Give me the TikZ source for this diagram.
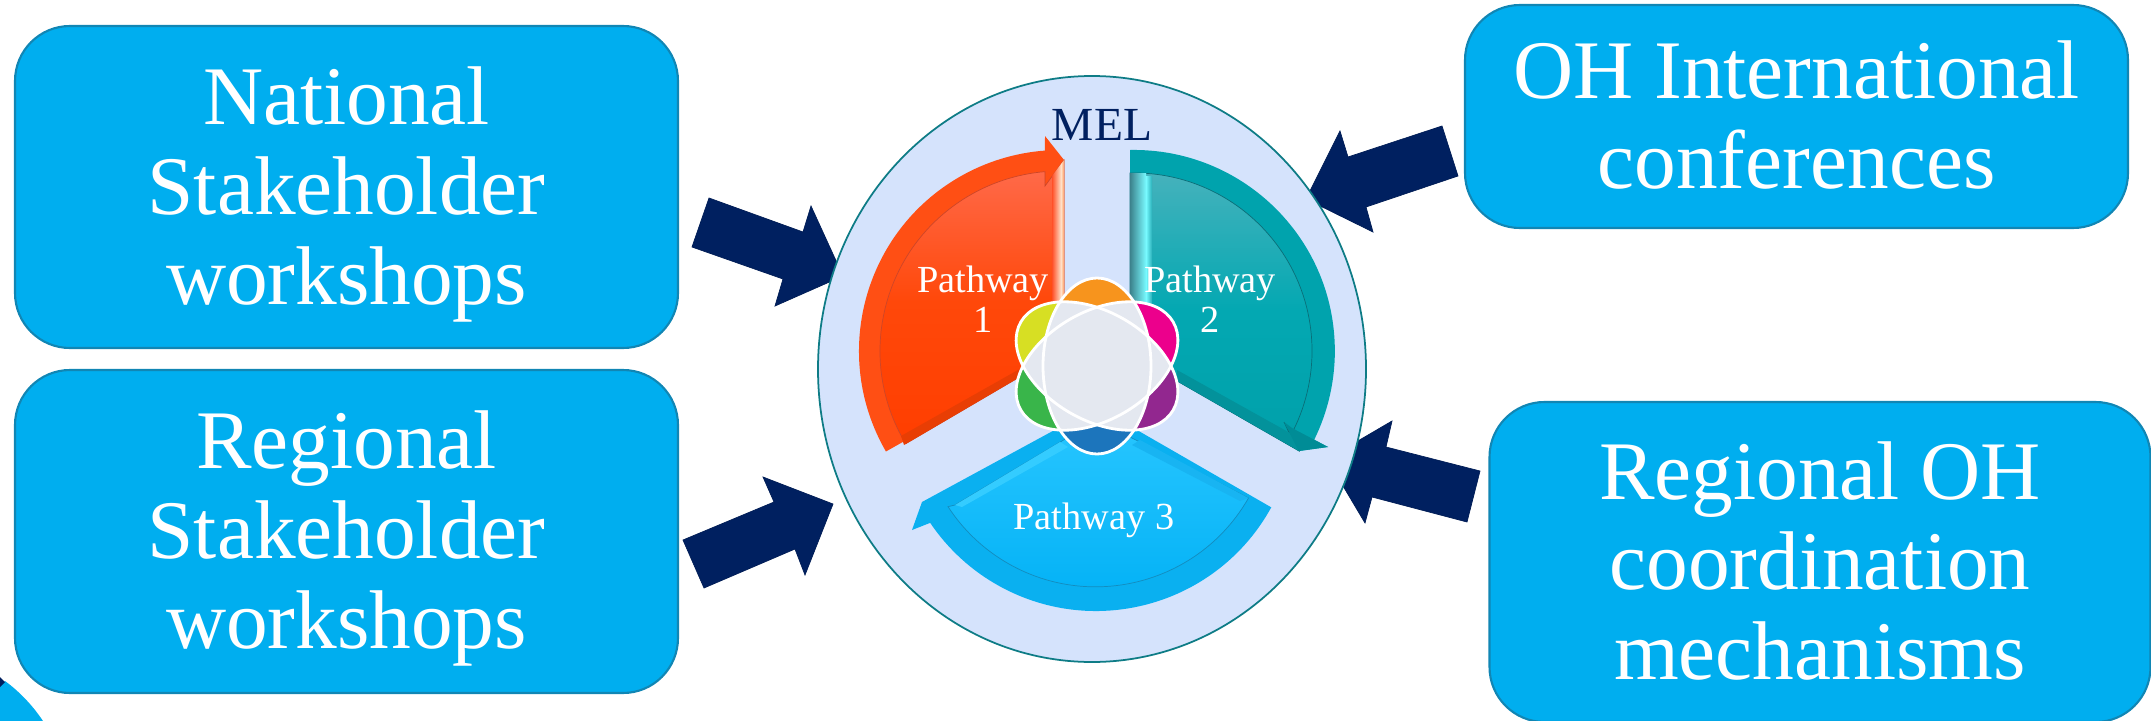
\documentclass[tikz,border=0pt]{standalone}
\usepackage{fontspec}
\setmainfont{Liberation Serif}
\usetikzlibrary{shapes.geometric}

\definecolor{boxblue}{HTML}{00AEEF}
\definecolor{boxline}{HTML}{1186B4}
\definecolor{navy}{HTML}{002060}
\definecolor{ringfill}{HTML}{D5E3FC}
\definecolor{ringline}{HTML}{0E7C86}
\definecolor{grayc}{HTML}{E4E8F0}
\definecolor{orbase}{HTML}{FF4F14}
\definecolor{orline}{HTML}{CD4628}
\definecolor{ortop}{HTML}{FF6C4E}
\definecolor{ormid}{HTML}{FF480A}
\definecolor{orlow}{HTML}{FF3E00}
\definecolor{ordark}{HTML}{E83E04}
\definecolor{orleft}{HTML}{FF5028}
\definecolor{orlight}{HTML}{FFE1C8}
\definecolor{oredge}{HTML}{FF9A60}
\definecolor{tealbase}{HTML}{00A3AD}
\definecolor{tealline}{HTML}{0A6E78}
\definecolor{tealtop}{HTML}{46B2BC}
\definecolor{tealmid}{HTML}{03A8B2}
\definecolor{teallow}{HTML}{00A0AA}
\definecolor{tealdark}{HTML}{03929B}
\definecolor{tealhead}{HTML}{008C96}
\definecolor{tealshade}{HTML}{3C828C}
\definecolor{teallight}{HTML}{78FAFF}
\definecolor{tealside}{HTML}{28AFB9}
\definecolor{skybase}{HTML}{0AB0F0}
\definecolor{skyline}{HTML}{148CBE}
\definecolor{skytop}{HTML}{28C6FF}
\definecolor{skylow}{HTML}{00B0F5}
\definecolor{skylight}{HTML}{34CCFF}
\definecolor{skyside}{HTML}{18B4F2}

\tikzset{
 	bigbox/.style={rectangle, rounded corners=1.1cm, draw=boxline, line width=1.2pt, fill=boxblue, inner sep=0pt},
 	boxtext/.style={text=white, align=center, inner sep=0pt, font=\fontsize{47.4}{51.2}\selectfont},
 	blockarrow/.style={fill=navy, draw=navy!90!black, line width=0.4pt},
 	pathlabel/.style={text=white, align=center, inner sep=0pt, font=\fontsize{21.8}{23}\selectfont},
 	petal/.style={x radius=54, y radius=88}
}

\begin{document}
\begin{tikzpicture}[x=1pt, y=1pt, xscale=0.56906, yscale=-0.56906]
 	\useasboundingbox (0,0) rectangle (2151,721);
 	% Corner piece
 	\fill[boxblue] (0,686) -- (5,681) .. controls (20,692) and (33,706) .. (43,721) -- (0,721) -- cycle;
 	\fill[navy] (0,677) -- (5,682) -- (0,687) -- cycle;
 	% Boxes
 	\node[bigbox, minimum width=13.26cm, minimum height=6.44cm] (national) at (346.5,187) {};
 	\node[bigbox, minimum width=13.26cm, minimum height=6.46cm] (regional) at (346.5,531.5) {};
 	\node[bigbox, minimum width=13.26cm, minimum height=4.46cm] (conferences) at (1796.5,116.5) {};
 	\node[bigbox, minimum width=13.22cm, minimum height=6.4cm] (mechanisms) at (1820,562) {};
 	\node[boxtext] (national_text) at (346.5,194) {National\\Stakeholder\\workshops};
 	\node[boxtext] (regional_text) at (346.5,538) {Regional\\Stakeholder\\workshops};
 	\node[boxtext] (conferences_text) at (1796.5,115) {OH International\\conferences};
 	\node[boxtext] (mechanisms_text) at (1820,561) {Regional OH\\coordination\\mechanisms};
 	% Arrows
 	\draw[blockarrow] (709,198) -- (803,232) -- (811,206) -- (843,276) -- (775,306) -- (783,279) -- (692,247) -- cycle;
 	\draw[blockarrow] (683,540) -- (774,502) -- (763,477) -- (833,504) -- (805,575) -- (795,549) -- (704,588) -- cycle;
 	\draw[blockarrow] (1442,126) -- (1348,157) -- (1340,131) -- (1306,199) -- (1373,232) -- (1366,207) -- (1458,176) -- cycle;
 	\draw[blockarrow] (1480,471) -- (1386,447) -- (1392,421) -- (1327,459) -- (1365,523) -- (1372,497) -- (1467,522) -- cycle;
 	% Ring
 	\node[ellipse, draw=ringline, line width=1pt, fill=ringfill, inner sep=0pt, minimum width=10.96cm, minimum height=11.72cm] (ring) at (1092,369) {};
 	% Pathway 1
 	\fill[orbase] ([shift={(1060,351)}]150:201) arc[start angle=150, end angle=265.7, radius=201] -- (1045,136) -- (1064,160) -- (1064,351) -- cycle;
 	\path[draw=orline, line width=0.4pt, top color=ortop, bottom color=orlow, middle color=ormid] ([shift={(1060,351)}]149:180) arc[start angle=149, end angle=265.2, radius=180] -- (1045,186) -- (1064,160) -- (1064,351) -- cycle;
 	\fill[ordark] (904,445) -- (1064,351) -- (1064,344) -- (901,436) -- cycle;
 	\shade[left color=orleft, right color=orlight] (1052,176) -- (1061,164) -- (1061,345) -- (1052,350) -- cycle;
 	\shade[left color=orlight, right color=oredge] (1061,164) -- (1064,160) -- (1064,345) -- (1061,345) -- cycle;
 	% Pathway 2
 	\fill[tealbase] (1130,354) -- (1130,150) arc[start angle=268.9, end angle=386.2, radius=201] -- (1328,447) -- (1299,451) -- cycle;
 	\path[draw=tealline, line width=0.4pt, top color=tealtop, bottom color=teallow, middle color=tealmid] (1130,354) -- (1130,173) arc[start angle=268.7, end angle=388.5, radius=178] -- (1284,422) -- (1299,451) -- cycle;
 	\fill[tealdark] (1177,381) -- (1299,451) -- (1290,433) -- (1177,370) -- cycle;
 	\fill[tealhead] (1328,447) -- (1299,451) -- (1284,422) -- (1292,428) -- cycle;
 	\shade[left color=tealshade, right color=teallight] (1130,173) rectangle (1146,320);
 	\shade[left color=teallight, right color=tealside] (1146,176) rectangle (1152,320);
 	% Pathway 3
 	\fill[skybase] (1097,407) -- ([shift={(1096,411)}]28.8:200) arc[start angle=28.8, end angle=146, radius=200] -- (912,530) -- (922,502) -- cycle;
 	\path[draw=skyline, line width=0.4pt, top color=skytop, bottom color=skylow] (1097,420) -- (1248.5,498) arc[start angle=29.7, end angle=147, radius=176] -- (955,505) -- cycle;
 	\fill[skylight] (955,505) -- (1060,442) -- (1068,447) -- (962,507) -- cycle;
 	\fill[skyside] (1248.5,498) -- (1140,440) -- (1132,445) -- (1240,501) -- cycle;
 	% Flower
 	\begin{scope}[shift={(1097,366)}]
 		\foreach \ang/\col in {0/F7941D, 60/EC008C, 120/92278F, 180/1C75BC, 240/39B54A, 300/D7DF23}{
 			\definecolor{petalcol}{HTML}{\col}
 			\begin{scope}[rotate=\ang]
 				\clip (-100,-100) rectangle (100,0);
 				\fill[petalcol] (0,0) ellipse [petal];
 			\end{scope}
 		}
 		\foreach \ang/\other in {0/60, 60/120, 120/0}{
 			\begin{scope}
 				\clip[rotate=\ang] (0,0) ellipse [petal];
 				\fill[grayc, rotate=\other] (0,0) ellipse [petal];
 			\end{scope}
 		}
 		\foreach \ang in {0,60,120}
 			\draw[white, line width=1.6pt, rotate=\ang] (0,0) ellipse [petal];
 	\end{scope}
 	% Labels
 	\node[text=navy, inner sep=0pt, font=\fontsize{27}{28}\selectfont] (mel) at (1102,125) {MEL};
 	\node[pathlabel] (path_one) at (983,299) {Pathway\\1};
 	\node[pathlabel] (path_two) at (1210,299) {Pathway\\2};
 	\node[pathlabel] (path_three) at (1094,520) {Pathway 3};
\end{tikzpicture}
\end{document}
